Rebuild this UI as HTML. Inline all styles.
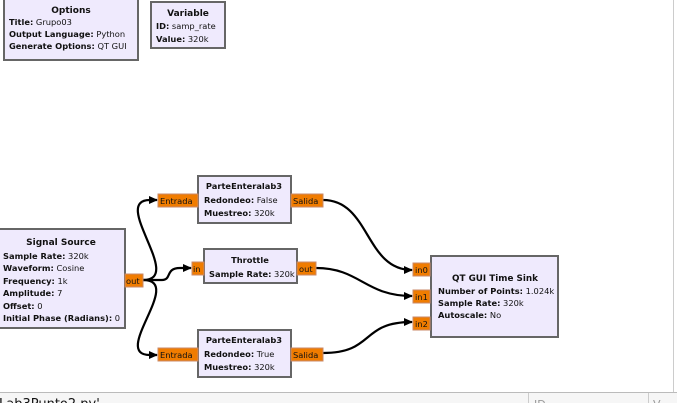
<!DOCTYPE html>
<html><head><meta charset="utf-8"><style>
body{margin:0;width:677px;height:403px;overflow:hidden;background:#fff;font-family:"DejaVu Sans","Liberation Sans",sans-serif}
svg text{font-family:"DejaVu Sans","Liberation Sans",sans-serif;font-size:8.3px;fill:#111}
.b{font-weight:bold}
.blk{fill:#efeafd;stroke:#666;stroke-width:2}
.port{fill:#f07c00;stroke:#c98a6a;stroke-width:1}
.w{fill:none;stroke:#000;stroke-width:2.2}
</style></head><body>
<svg width="677" height="403" viewBox="0 0 677 403">
<defs><marker id="a" markerWidth="9" markerHeight="9" refX="8" refY="4.5" orient="auto" markerUnits="userSpaceOnUse"><path d="M0,0.5 L9,4.5 L0,8.5z" fill="#000"/></marker></defs>
<rect class="blk" x="4" y="-2" width="134" height="62"/>
<text class="b" x="71" y="13" text-anchor="middle" style="font-size:9px">Options</text>
<text x="9" y="25"><tspan class="b">Title:</tspan> Grupo03</text>
<text x="9" y="37"><tspan class="b">Output Language:</tspan> Python</text>
<text x="9" y="49"><tspan class="b">Generate Options:</tspan> QT GUI</text>
<rect class="blk" x="151" y="2" width="74" height="46"/>
<text class="b" x="188" y="16" text-anchor="middle" style="font-size:9px">Variable</text>
<text x="156" y="29"><tspan class="b">ID:</tspan> samp_rate</text>
<text x="156" y="42"><tspan class="b">Value:</tspan> 320k</text>
<path class="w" d="M143,280 C185,280 110,200 150,200 L157,200" marker-end="url(#a)"/>
<path class="w" d="M143,280 C185,280 110,355 150,355 L157,355" marker-end="url(#a)"/>
<path class="w" d="M143,280 L162,280 C172,280 165,268 180,268 L191,268" marker-end="url(#a)"/>
<path class="w" d="M323,200 C370,200 365,270 412,270" marker-end="url(#a)"/>
<path class="w" d="M316,268 C360,268 365,296 412,296" marker-end="url(#a)"/>
<path class="w" d="M323,353 C375,353 360,322 412,322" marker-end="url(#a)"/>
<rect class="blk" x="-2" y="229" width="127" height="99"/>
<text class="b" x="61" y="245" text-anchor="middle" style="font-size:9px">Signal Source</text>
<text x="3" y="259"><tspan class="b">Sample Rate:</tspan> 320k</text>
<text x="3" y="271"><tspan class="b">Waveform:</tspan> Cosine</text>
<text x="3" y="284"><tspan class="b">Frequency:</tspan> 1k</text>
<text x="3" y="296"><tspan class="b">Amplitude:</tspan> 7</text>
<text x="3" y="309"><tspan class="b">Offset:</tspan> 0</text>
<text x="3" y="321"><tspan class="b">Initial Phase (Radians):</tspan> 0</text>
<rect class="port" x="125" y="274" width="18" height="13"/><text x="126" y="284">out</text>
<rect class="blk" x="198" y="176" width="93" height="47"/>
<text class="b" x="244" y="189" text-anchor="middle">ParteEnteralab3</text>
<text x="204" y="203"><tspan class="b">Redondeo:</tspan> False</text>
<text x="204" y="216"><tspan class="b">Muestreo:</tspan> 320k</text>
<rect class="port" x="158" y="194" width="40" height="13"/><text x="160" y="204">Entrada</text>
<rect class="port" x="291" y="194" width="32" height="13"/><text x="293" y="204">Salida</text>
<rect class="blk" x="204" y="249" width="93" height="34"/>
<text class="b" x="250" y="263" text-anchor="middle">Throttle</text>
<text x="209" y="277"><tspan class="b">Sample Rate:</tspan> 320k</text>
<rect class="port" x="192" y="262" width="12" height="13"/><text x="193" y="272">in</text>
<rect class="port" x="297" y="262" width="19" height="13"/><text x="299" y="272">out</text>
<rect class="blk" x="198" y="330" width="93" height="47"/>
<text class="b" x="244" y="343" text-anchor="middle">ParteEnteralab3</text>
<text x="204" y="357"><tspan class="b">Redondeo:</tspan> True</text>
<text x="204" y="370"><tspan class="b">Muestreo:</tspan> 320k</text>
<rect class="port" x="158" y="348" width="40" height="13"/><text x="160" y="358">Entrada</text>
<rect class="port" x="291" y="348" width="32" height="13"/><text x="293" y="358">Salida</text>
<rect class="blk" x="431" y="256" width="127" height="81"/>
<text class="b" x="495" y="281" text-anchor="middle" style="font-size:8.8px">QT GUI Time Sink</text>
<text x="438" y="294"><tspan class="b">Number of Points:</tspan> 1.024k</text>
<text x="438" y="306"><tspan class="b">Sample Rate:</tspan> 320k</text>
<text x="438" y="318"><tspan class="b">Autoscale:</tspan> No</text>
<rect class="port" x="413" y="263" width="17" height="13"/><text x="415" y="273">in0</text>
<rect class="port" x="413" y="290" width="17" height="13"/><text x="415" y="300">in1</text>
<rect class="port" x="413" y="317" width="17" height="13"/><text x="415" y="327">in2</text>
<line x1="673.5" y1="0" x2="673.5" y2="393" stroke="#ccc"/>
<rect x="0" y="392" width="677" height="11" fill="#f6f6f6"/>
<line x1="0" y1="392.5" x2="677" y2="392.5" stroke="#bbb"/>
<line x1="528.5" y1="393" x2="528.5" y2="403" stroke="#ccc"/>
<line x1="648.5" y1="393" x2="648.5" y2="403" stroke="#ccc"/>
<text x="-1" y="408" style="font-size:13px">Lab3Punto2.py'</text>
<text x="534" y="408" style="font-size:11px;fill:#999">ID</text>
<text x="653" y="408" style="font-size:11px;fill:#999">V</text>
</svg>
</body></html>
